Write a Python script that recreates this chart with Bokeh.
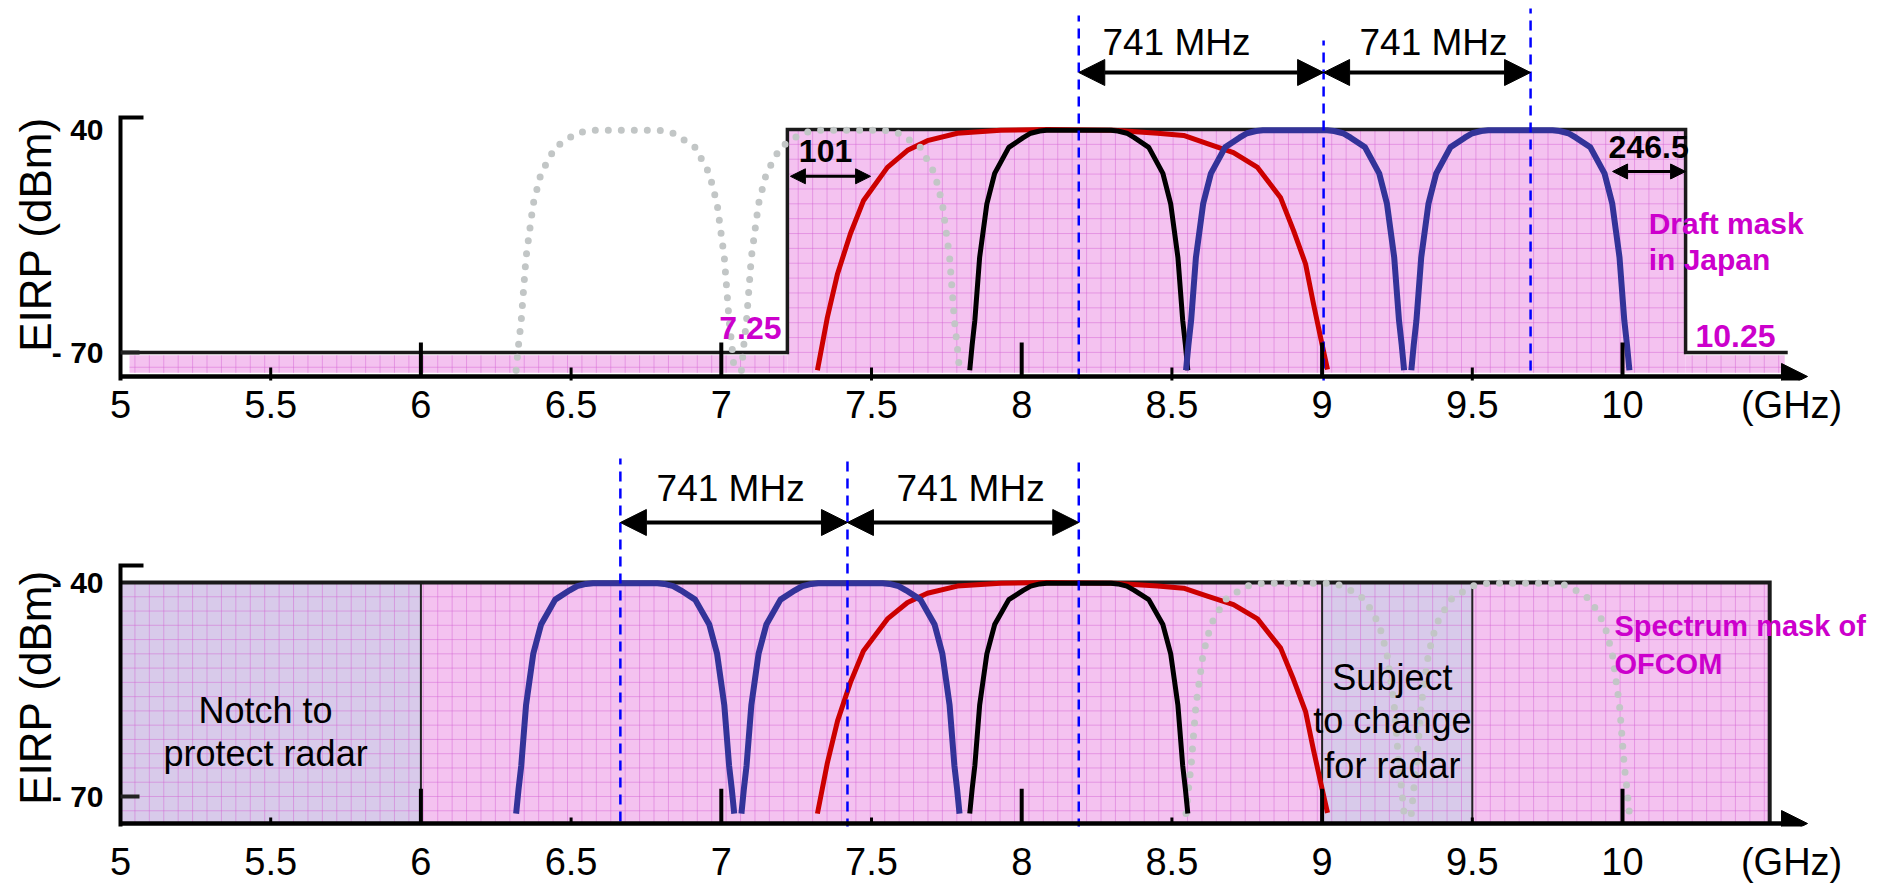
import numpy as np
from bokeh.plotting import figure
from bokeh.models import Range1d, FixedTicker, Arrow, NormalHead
from bokeh.layouts import column
from bokeh.embed import file_html
from bokeh.resources import INLINE
from bokeh.core.properties import value

# ---------------- values ----------------
tick_ghz = [5.0, 5.5, 6.0, 6.5, 7.0, 7.5, 8.0, 8.5, 9.0, 9.5, 10.0]
tick_labels = ["5", "5.5", "6", "6.5", "7", "7.5", "8", "8.5", "9", "9.5", "10"]
x_unit_ghz = 10.563
x_unit_label = "(GHz)"
major_ghz = [6.0, 7.0, 8.0, 9.0, 10.0]
half_ghz = [5.5, 6.5, 7.5, 8.5, 9.5]
ytick_dbm = [-70.0, -40.0]
top_ytick_labels = ["- 70", "40"]
bottom_ytick_labels = ["- 70", "- 40"]
y_title = "EIRP (dBm)"

# channel filter shape: offset from channel centre (GHz) and EIRP (dBm)
profile_dx_ghz = [-0.363, -0.355, -0.346, -0.330, -0.318, -0.306, -0.280, -0.233,
                  -0.185, -0.160, -0.130, -0.107, 0.107, 0.130, 0.160, 0.185,
                  0.233, 0.280, 0.306, 0.318, 0.330, 0.346, 0.355, 0.363]
profile_dbm = [-72.4, -69.0, -65.7, -57.2, -53.6, -50.0, -45.9, -42.4,
               -41.1, -40.5, -40.2, -40.1, -40.1, -40.2, -40.5, -41.1,
               -42.4, -45.9, -50.0, -53.6, -57.2, -65.7, -69.0, -72.4]
channel_centres_ghz = [6.68, 7.43, 8.19, 8.91, 9.66]
top_channel_kind = ["dotted", "dotted", "black", "blue", "blue"]
bottom_channel_kind = ["blue", "blue", "black", "dotted", "dotted"]

# wide-band (red) spectrum
wide_ghz = [7.320, 7.353, 7.387, 7.430, 7.473, 7.553, 7.620, 7.686, 7.786, 7.929,
            8.086, 8.306, 8.452, 8.539, 8.618, 8.705, 8.785, 8.862, 8.905, 8.945,
            8.971, 8.995, 9.018]
wide_dbm = [-72.4, -65.3, -59.4, -54.0, -49.6, -45.1, -42.8, -41.5, -40.5, -40.1,
            -40.0, -40.1, -40.5, -40.8, -41.9, -43.1, -45.1, -49.2, -53.6, -58.1,
            -63.4, -68.0, -72.3]

# masks
japan_mask_ghz = [5.0, 7.22, 7.22, 10.21, 10.21, 10.55]
japan_mask_dbm = [-70.0, -70.0, -40.0, -40.0, -70.0, -70.0]
ofcom_mask_ghz = [5.0, 10.49]
ofcom_level_dbm = -40.0
notch_ghz = [5.0, 6.0]
subject_ghz = [9.0, 9.5]

# channel spacing markers
top_marker_ghz = [8.19, 9.005, 9.694]
bottom_marker_ghz = [6.664, 7.42, 8.19]
spacing_text = "741 MHz"

# ---------------- styling ----------------
FONT = "Liberation Sans"
PINK = "#F4C2F0"
LAV = "#D8CAEA"
GRID = "#D25FD2"
RED = "#CC0000"
BLUE = "#333399"
GRAY = "#C2C6C6"
DASH = "#0000FF"
MAG = "#CC00CC"

PPG = 300.4      # px per GHz
X5 = 120         # px of 5 GHz
H = 443


def gx(px):
    return 5 + (px - X5) / PPG


def base_fig(y40, ppd, fb, standoff):
    xr = Range1d(gx(0), gx(1901))
    yr = Range1d(-40 - (fb - y40) / ppd, -40 + y40 / ppd)
    p = figure(frame_width=1901, frame_height=fb, x_range=xr, y_range=yr,
               y_axis_location=None,
               min_border_left=0, min_border_right=0, min_border_top=0,
               min_border_bottom=H - fb, output_backend="svg", toolbar_location=None)
    p.outline_line_color = None
    p.xgrid.visible = False
    p.ygrid.visible = False
    p.background_fill_color = "white"
    p.border_fill_color = "white"
    xa = p.xaxis[0]
    xa.ticker = FixedTicker(ticks=tick_ghz + [x_unit_ghz])
    overrides = dict(zip(tick_ghz, tick_labels))
    overrides[x_unit_ghz] = x_unit_label
    xa.major_label_overrides = overrides
    xa.axis_line_color = None
    xa.major_tick_line_color = None
    xa.minor_tick_line_color = None
    xa.major_label_text_font = FONT
    xa.major_label_text_font_size = "38px"
    xa.major_label_text_color = "black"
    xa.major_label_standoff = standoff
    return p


def add_yaxis_text(p, labels, title_y):
    p.text(x=[gx(103)] * len(ytick_dbm), y=ytick_dbm, text=labels,
           text_font=value(FONT), text_font_size="30px", text_font_style="bold",
           text_align="right", text_baseline="middle", text_color="black")
    p.text(x=[gx(35)], y=[title_y], text=[y_title], angle=np.pi / 2,
           text_font=value(FONT), text_font_size="44px", text_align="center",
           text_baseline="middle", text_color="black")


def add_grid(p, rects, dx=0.048, dy=2.0):
    x0, y0, x1, y1 = [], [], [], []
    for l, r, b, t in rects:
        for g in np.arange(5 + np.ceil((l - 5) / dx + 0.3) * dx, r - 0.01, dx):
            x0.append(g); x1.append(g); y0.append(b); y1.append(t)
        for g in np.arange(np.ceil(b / dy + 0.3) * dy, t - 0.3, dy):
            x0.append(l); x1.append(r); y0.append(g); y1.append(g)
    p.segment(x0, y0, x1, y1, line_color=GRID, line_alpha=0.45, line_width=1)


def add_channels(p, kinds):
    p.line(wide_ghz, wide_dbm, line_color=RED, line_width=5, line_join="round")
    for c, k in zip(channel_centres_ghz, kinds):
        if k == "dotted":
            p.line([c + d for d in profile_dx_ghz], profile_dbm, line_color=GRAY,
                   line_width=7, line_dash="0 13", line_cap="round")
    for c, k in zip(channel_centres_ghz, kinds):
        if k == "black":
            p.line([c + d for d in profile_dx_ghz], profile_dbm, line_color="black",
                   line_width=5, line_join="round")
    for c, k in zip(channel_centres_ghz, kinds):
        if k == "blue":
            p.line([c + d for d in profile_dx_ghz], profile_dbm, line_color=BLUE,
                   line_width=6, line_join="round")


def add_spacing(p, markers, tops, bottoms, arrow_y, text_x, text_y):
    p.segment(markers, bottoms, markers, tops, line_color=DASH, line_width=2.5,
              line_dash="10 7")
    for a, b in zip(markers[:-1], markers[1:]):
        p.add_layout(Arrow(start=NormalHead(size=26, fill_color="black", line_color="black"),
                           end=NormalHead(size=26, fill_color="black", line_color="black"),
                           x_start=a, y_start=arrow_y, x_end=b, y_end=arrow_y,
                           line_width=4, line_color="black"))
    p.text(x=text_x, y=[text_y] * len(text_x), text=[spacing_text] * len(text_x),
           text_font=value(FONT), text_font_size="37px", text_align="center",
           text_baseline="middle", text_color="black")


def add_axes(p, axis_y, top_y, tall_from, half_from, half_to):
    p.segment(major_ghz, [tall_from] * 5, major_ghz, [axis_y] * 5,
              line_color="black", line_width=4)
    p.segment(half_ghz, [half_from] * 5, half_ghz, [half_to] * 5,
              line_color="black", line_width=3)
    p.line([gx(143), 5.0, 5.0], [top_y, top_y, axis_y - 0.6],
           line_color="black", line_width=4, line_join="miter")
    p.segment([5.0], [-70.0], [gx(139)], [-70.0], line_color="#222222", line_width=4)
    p.add_layout(Arrow(end=NormalHead(size=26, fill_color="black", line_color="black"),
                       x_start=5.0, y_start=axis_y, x_end=10.616, y_end=axis_y,
                       line_width=4.5, line_color="black"))


# ================= top panel: Japan =================
top = base_fig(129, 7.43, 380, -3)
AX_T = -73.24
low_b = -72.75
rects_t = [(5.03, japan_mask_ghz[1], low_b, -70.4),
           (japan_mask_ghz[2], japan_mask_ghz[3], low_b, japan_mask_dbm[2]),
           (japan_mask_ghz[4], 10.54, low_b, -70.4)]
top.quad(left=[r[0] for r in rects_t], right=[r[1] for r in rects_t],
         bottom=[r[2] for r in rects_t], top=[r[3] for r in rects_t],
         fill_color=PINK, line_color=None)
add_grid(top, rects_t)
top.line(japan_mask_ghz, japan_mask_dbm, line_color="#1a1a1a", line_width=3.5,
         line_join="miter")
add_channels(top, top_channel_kind)
add_spacing(top, top_marker_ghz, [-24.66, -28.02, -23.71], [-73.51, -74.46, -72.44],
            -32.33, [8.515, 9.371], -28.29)
for xs, xe, ya in [(7.23, 7.497, -46.3), (9.967, 10.21, -45.65)]:
    top.add_layout(Arrow(start=NormalHead(size=15, fill_color="black", line_color="black"),
                         end=NormalHead(size=15, fill_color="black", line_color="black"),
                         x_start=xs, y_start=ya, x_end=xe, y_end=ya,
                         line_width=3, line_color="black"))
top.text(x=[7.347, 10.087], y=[-42.96, -42.42], text=["101", "246.5"],
         text_font=value(FONT), text_font_size="32px", text_font_style="bold",
         text_align="center", text_baseline="middle", text_color="black")
top.text(x=[7.097, 10.376], y=[-66.65, -67.86], text=["7.25", "10.25"],
         text_font=value(FONT), text_font_size="32px", text_font_style="bold",
         text_align="center", text_baseline="middle", text_color=MAG)
top.text(x=[10.087, 10.087], y=[-52.65, -57.5], text=["Draft mask", "in Japan"],
         text_font=value(FONT), text_font_size="30px", text_font_style="bold",
         text_align="left", text_baseline="middle", text_color=MAG)
add_axes(top, AX_T, -38.385, -68.67, -72.03, -74.18)
add_yaxis_text(top, top_ytick_labels, -54.13)

# ================= bottom panel: OFCOM =================
bot = base_fig(139, 7.133, 383, 8)
AX_B = -73.79
bot.quad(left=[ofcom_mask_ghz[0]], right=[ofcom_mask_ghz[1]], bottom=[AX_B],
         top=[ofcom_level_dbm], fill_color=PINK, line_color=None)
bot.quad(left=[notch_ghz[0], subject_ghz[0]], right=[notch_ghz[1], subject_ghz[1]],
         bottom=[AX_B, AX_B], top=[ofcom_level_dbm, ofcom_level_dbm],
         fill_color=LAV, line_color=None)
add_grid(bot, [(ofcom_mask_ghz[0], ofcom_mask_ghz[1], AX_B, ofcom_level_dbm)])
bot.segment([notch_ghz[1], subject_ghz[0], subject_ghz[1]], [AX_B] * 3,
            [notch_ghz[1], subject_ghz[0], subject_ghz[1]], [ofcom_level_dbm] * 3,
            line_color="#222222", line_width=2)
bot.line([ofcom_mask_ghz[0], ofcom_mask_ghz[1], ofcom_mask_ghz[1]],
         [ofcom_level_dbm, ofcom_level_dbm, AX_B], line_color="#1a1a1a", line_width=4,
         line_join="miter")
add_channels(bot, bottom_channel_kind)
add_spacing(bot, bottom_marker_ghz, [-22.62, -22.20, -23.18], [-73.5, -74.5, -74.5],
            -31.59, [7.031, 7.830], -26.82)
bot.text(x=[5.483, 5.483], y=[-57.94, -63.97], text=["Notch to", "protect radar"],
         text_font=value(FONT), text_font_size="36px", text_align="center",
         text_baseline="alphabetic", text_color="black")
bot.text(x=[9.234, 9.234, 9.234], y=[-53.32, -59.35, -65.66],
         text=["Subject", "to change", "for radar"],
         text_font=value(FONT), text_font_size="36px", text_align="center",
         text_baseline="alphabetic", text_color="black")
bot.text(x=[9.973, 9.973], y=[-46.03, -51.36], text=["Spectrum mask of", "OFCOM"],
         text_font=value(FONT), text_font_size="29px", text_font_style="bold",
         text_align="left", text_baseline="alphabetic", text_color=MAG)
add_axes(bot, AX_B, -37.62, -68.9, -72.95, AX_B)
add_yaxis_text(bot, bottom_ytick_labels, -54.72)

layout = column(top, bot, spacing=0)
open("out.html", "w").write(file_html(layout, INLINE))
